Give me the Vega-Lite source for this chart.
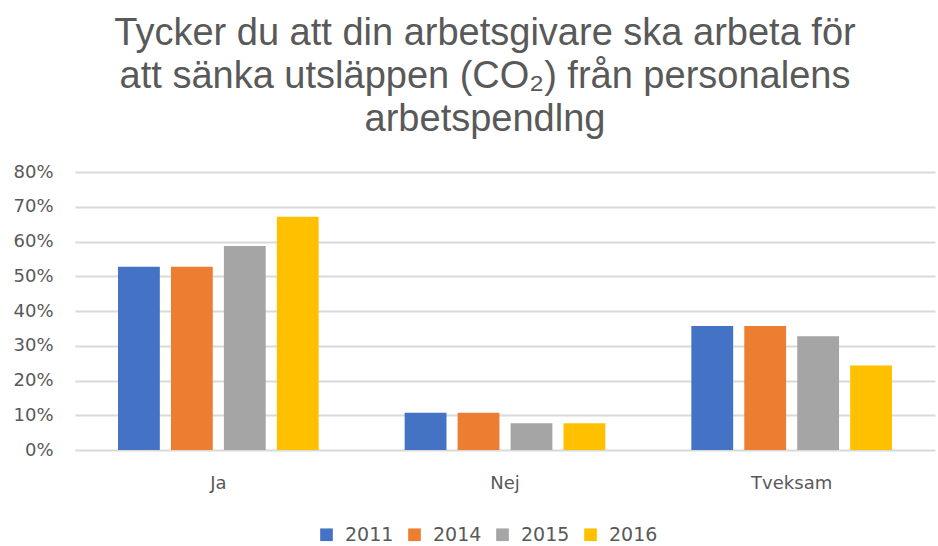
{
  "$schema": "https://vega.github.io/schema/vega-lite/v6.json",
  "autosize": {"type": "none"},
  "width": 860,
  "height": 278,
  "padding": {"left": 75, "top": 172, "right": 3, "bottom": 96},
  "background": "white",
  "title": {
    "text": ["Tycker du att din arbetsgivare ska arbeta för", "att sänka utsläppen (CO₂) från personalens", "arbetspendlng"],
    "font": "Liberation Sans",
    "fontSize": 38,
    "fontWeight": "normal",
    "color": "#595959",
    "lineHeight": 43,
    "anchor": "middle",
    "frame": "group",
    "dx": -20,
    "offset": 24
  },
  "data": {
    "values": [
      {"svar": "Ja", "år": "2011", "andel": 0.527},
      {"svar": "Ja", "år": "2014", "andel": 0.527},
      {"svar": "Ja", "år": "2015", "andel": 0.587},
      {"svar": "Ja", "år": "2016", "andel": 0.671},
      {"svar": "Nej", "år": "2011", "andel": 0.107},
      {"svar": "Nej", "år": "2014", "andel": 0.107},
      {"svar": "Nej", "år": "2015", "andel": 0.077},
      {"svar": "Nej", "år": "2016", "andel": 0.077},
      {"svar": "Tveksam", "år": "2011", "andel": 0.357},
      {"svar": "Tveksam", "år": "2014", "andel": 0.357},
      {"svar": "Tveksam", "år": "2015", "andel": 0.327},
      {"svar": "Tveksam", "år": "2016", "andel": 0.243}
    ]
  },
  "mark": {"type": "bar"},
  "encoding": {
    "x": {
      "field": "svar",
      "type": "nominal",
      "sort": ["Ja", "Nej", "Tveksam"],
      "scale": {"paddingInner": 0.3, "paddingOuter": 0.15},
      "axis": {
        "title": null,
        "labelAngle": 0,
        "domain": false,
        "ticks": false,
        "labelFont": "DejaVu Sans",
        "labelFontSize": 18,
        "labelColor": "#595959",
        "labelPadding": 24
      }
    },
    "xOffset": {
      "field": "år",
      "type": "nominal",
      "scale": {"paddingInner": 0.21, "paddingOuter": 0}
    },
    "y": {
      "field": "andel",
      "type": "quantitative",
      "scale": {"domain": [0, 0.8]},
      "axis": {
        "title": null,
        "format": ".0%",
        "values": [0, 0.1, 0.2, 0.3, 0.4, 0.5, 0.6, 0.7, 0.8],
        "domain": false,
        "ticks": false,
        "grid": true,
        "gridColor": "#d9d9d9",
        "gridWidth": 1.8,
        "labelFont": "DejaVu Sans",
        "labelFontSize": 18,
        "labelColor": "#595959",
        "labelPadding": 22
      }
    },
    "color": {
      "field": "år",
      "type": "nominal",
      "scale": {"domain": ["2011", "2014", "2015", "2016"], "range": ["#4472C4", "#ED7D31", "#A5A5A5", "#FFC000"]},
      "legend": {
        "title": null,
        "orient": "none",
        "legendX": 242,
        "legendY": 353,
        "direction": "horizontal",
        "columns": 4,
        "symbolType": "square",
        "symbolSize": 160,
        "symbolStrokeWidth": 0,
        "labelFont": "DejaVu Sans",
        "labelFontSize": 19,
        "labelColor": "#595959",
        "labelOffset": 9,
        "columnPadding": 11
      }
    }
  },
  "config": {"view": {"stroke": null}}
}
